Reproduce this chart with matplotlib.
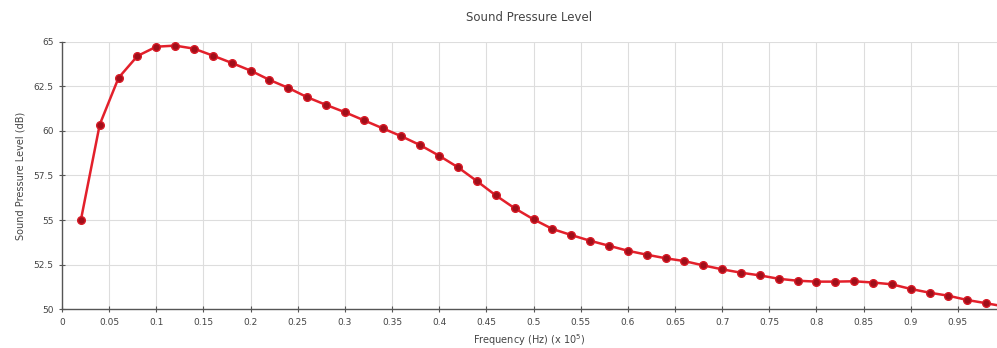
import numpy as np
import matplotlib
matplotlib.use("Agg")
import matplotlib.pyplot as plt
from matplotlib.ticker import FuncFormatter

# frequency (x 10^5 Hz) and level (dB)
freq = [0.02, 0.04, 0.06, 0.08, 0.10, 0.12, 0.14, 0.16, 0.18, 0.20,
        0.22, 0.24, 0.26, 0.28, 0.30, 0.32, 0.34, 0.36, 0.38, 0.40,
        0.42, 0.44, 0.46, 0.48, 0.50, 0.52, 0.54, 0.56, 0.58, 0.60,
        0.62, 0.64, 0.66, 0.68, 0.70, 0.72, 0.74, 0.76, 0.78, 0.80,
        0.82, 0.84, 0.86, 0.88, 0.90, 0.92, 0.94, 0.96, 0.98, 1.00]
spl = [55.0, 60.35, 62.97, 64.19, 64.71, 64.77, 64.6, 64.21, 63.8, 63.37,
       62.85, 62.4, 61.88, 61.45, 61.04, 60.59, 60.14, 59.69, 59.19, 58.6,
       57.95, 57.18, 56.38, 55.66, 55.04, 54.5, 54.16, 53.84, 53.56, 53.28,
       53.06, 52.86, 52.7, 52.46, 52.24, 52.05, 51.9, 51.71, 51.6, 51.55,
       51.55, 51.57, 51.5, 51.4, 51.14, 50.93, 50.76, 50.52, 50.34, 50.15]

xticks = np.arange(0, 1.0, 0.05)
yticks = [50, 52.5, 55, 57.5, 60, 62.5, 65]

fig = plt.figure(figsize=(9.97, 3.48), dpi=100)
ax = fig.add_axes([0.0622, 0.1112, 0.9378, 0.7695])

ax.plot(freq, spl, "-", color="#e3202b", lw=1.8, zorder=3, clip_on=True)
ax.plot(freq, spl, "o", color="#a00f1a", mec="#d81a26", mew=1.0, ms=5.5,
        zorder=4, clip_on=True)

ax.set_xlim(0, 0.9915)
ax.set_ylim(50, 65)
ax.set_xticks(xticks)
ax.set_yticks(yticks)
ax.xaxis.set_major_formatter(FuncFormatter(lambda v, p: "%g" % round(v, 2)))
ax.yaxis.set_major_formatter(FuncFormatter(lambda v, p: "%g" % v))

ax.grid(True, color="#dddddd", lw=0.8)
ax.set_axisbelow(True)
for s in ["top", "right"]:
    ax.spines[s].set_visible(False)
for s in ["left", "bottom"]:
    ax.spines[s].set_color("#555555")
    ax.spines[s].set_linewidth(1.0)
ax.tick_params(direction="inout", length=4, width=0.8, colors="#555555",
               labelsize=6.5, labelcolor="#444444", pad=4)

ax.set_title("Sound Pressure Level", fontsize=8.5, color="#444444", pad=15)
ax.set_xlabel("Frequency (Hz) (x 10$^5$)", fontsize=7, color="#444444", labelpad=4)
ax.set_ylabel("Sound Pressure Level (dB)", fontsize=7, color="#444444", labelpad=6)

plt.savefig("out.png", dpi=100)
